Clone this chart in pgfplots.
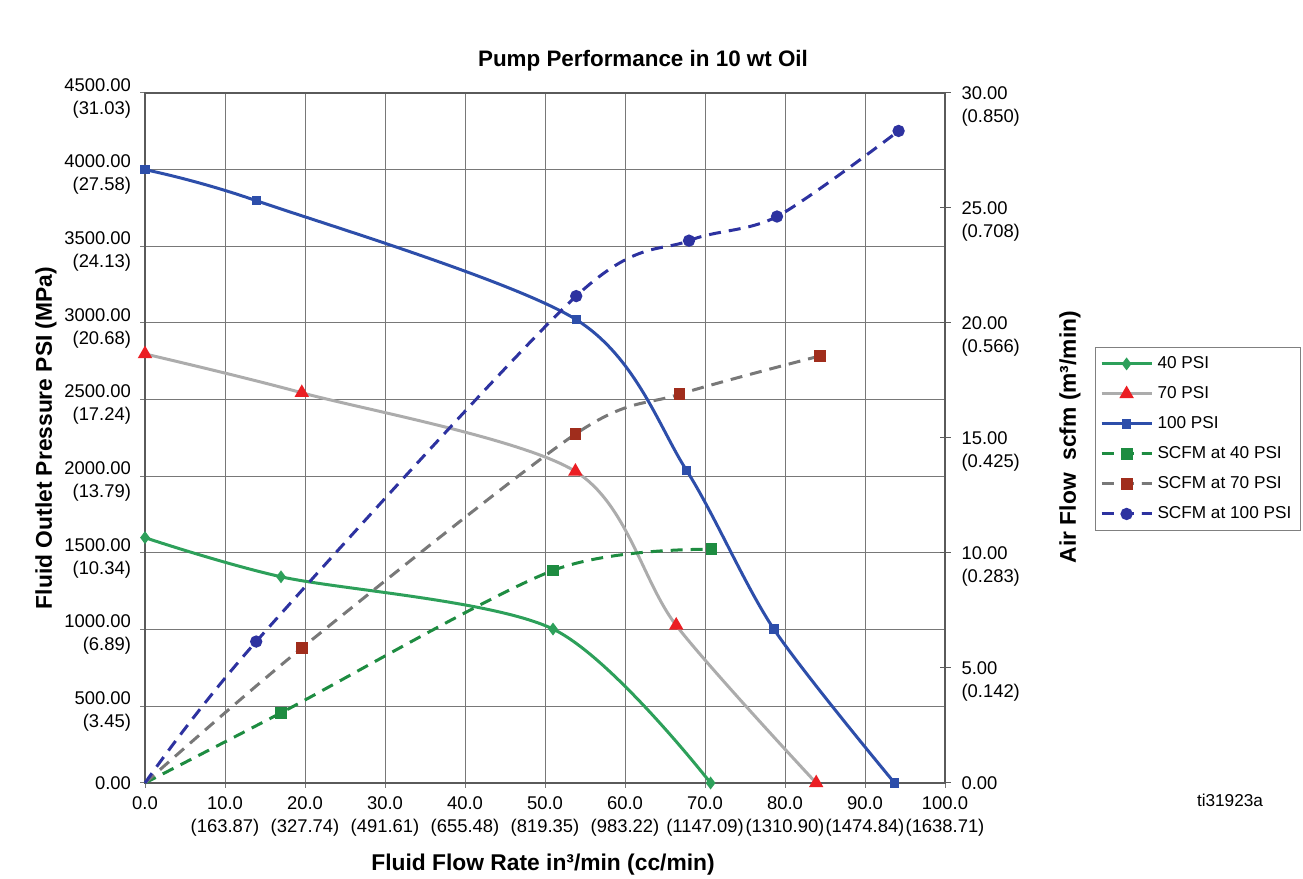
\documentclass[border=0pt]{standalone}
\usepackage{pgfplots}
\pgfplotsset{compat=1.18}
\usepackage{fontspec}
\setmainfont{Liberation Sans}
\definecolor{g40}{RGB}{45,160,90}
\definecolor{gy70}{RGB}{172,172,172}
\definecolor{b100}{RGB}{45,78,170}
\definecolor{gd}{RGB}{30,140,65}
\definecolor{gyd}{RGB}{120,120,120}
\definecolor{bd}{RGB}{45,50,160}
\definecolor{redm}{RGB}{235,30,35}
\definecolor{brownm}{RGB}{160,45,28}
\definecolor{gridc}{RGB}{120,120,120}
\definecolor{axc}{RGB}{90,90,90}

\pgfplotstableread{
x y
0 1600
17 1345
51 1004
70.7 0
}\psiA
\pgfplotstableread{
x y
0 2798
19.6 2545
53.8 2032
66.4 1028
83.9 0
}\psiB
\pgfplotstableread{
x y
0 4000
13.9 3798
53.9 3022
67.7 2038
78.6 1004
93.7 0
}\psiC
\pgfplotstableread{
x y
0 0
17 3.05
51 9.24
70.8 10.16
}\scfmA
\pgfplotstableread{
x y
0 0
19.6 5.87
53.8 15.17
66.8 16.9
84.4 18.57
}\scfmB
\pgfplotstableread{
x y
0 0
13.9 6.15
53.9 21.17
68 23.58
79 24.63
94.2 28.35
}\scfmC

\begin{document}
\begin{tikzpicture}
\useasboundingbox (0,0) rectangle (651.5pt,439.5pt);
\pgfplotsset{
  legend image code/.code={\draw[mark repeat=2,mark phase=2,#1] plot coordinates {(0pt,0pt) (12.5pt,0pt) (25pt,0pt)};},
}
\begin{axis}[
  at={(72.5pt,48pt)}, anchor=south west, scale only axis,
  width=400pt, height=345pt,
  xmin=0, xmax=100, ymin=0, ymax=4500,
  xtick={0,10,...,100}, ytick={0,500,...,4500},
  grid=major, major grid style={gridc, line width=0.5pt},
  axis line style={axc, line width=0.6pt},
  tick align=outside, major tick length=2.5pt,
  tick style={gridc, line width=0.5pt},
  xtick pos=bottom, ytick pos=left,
  clip=false,
  ticklabel style={font=\fontsize{9.2}{11.5}\selectfont},
  yticklabel style={align=right, xshift=-1pt, yshift=-2.5pt},
  xticklabel style={align=center, yshift=-1pt},
  yticklabels={{\raisebox{2.5pt}[\height][\depth]{0.00}}, {500.00\\(3.45)}, {1000.00\\(6.89)}, {1500.00\\(10.34)}, {2000.00\\(13.79)}, {2500.00\\(17.24)}, {3000.00\\(20.68)}, {3500.00\\(24.13)}, {4000.00\\(27.58)}, {4500.00\\(31.03)}},
  xticklabels={0.0, {10.0\\(163.87)}, {20.0\\(327.74)}, {30.0\\(491.61)}, {40.0\\(655.48)}, {50.0\\(819.35)}, {60.0\\(983.22)}, {70.0\\(1147.09)}, {80.0\\(1310.90)}, {90.0\\(1474.84)}, {100.0\\(1638.71)}},
]
\addplot[g40, line width=1.5pt, smooth, mark=diamond*, mark size=2pt, mark options={solid}] table {\psiA};
\addplot[gy70, line width=1.5pt, smooth, mark=triangle*, mark size=2.7pt, mark options={solid, fill=redm, draw=redm}] table {\psiB};
\addplot[b100, line width=1.5pt, smooth, mark=square*, mark size=1.6pt, mark options={solid}] table {\psiC};
\end{axis}
\begin{axis}[
  at={(72.5pt,48pt)}, anchor=south west, scale only axis,
  width=400pt, height=345pt,
  xmin=0, xmax=100, ymin=0, ymax=30,
  axis x line=none, axis y line*=right,
  ytick={0,5,...,30},
  tick align=center, major tick length=5.5pt,
  tick style={axc, line width=0.5pt},
  axis line style={axc, line width=0.6pt},
  clip=false,
  ticklabel style={font=\fontsize{9.2}{11.5}\selectfont},
  yticklabel style={align=left, anchor=west, yshift=-6.6pt, xshift=2pt},
  yticklabels={{0.00\\\vphantom{(}}, {5.00\\(0.142)}, {10.00\\(0.283)}, {15.00\\(0.425)}, {20.00\\(0.566)}, {25.00\\(0.708)}, {30.00\\(0.850)}},
  legend style={at={(1.1875,0.632)}, anchor=north west, draw=gray, line width=0.5pt,
    font=\fontsize{8.6}{10}\selectfont, row sep=3.1pt, inner sep=2.3pt,
    nodes={inner sep=2.2pt}},
  legend cell align=left,
]
\addlegendimage{g40, line width=1.5pt, mark=diamond*, mark size=2pt}
\addlegendentry{40 PSI}
\addlegendimage{gy70, line width=1.5pt, mark=triangle*, mark size=2.7pt, mark options={fill=redm, draw=redm}}
\addlegendentry{70 PSI}
\addlegendimage{b100, line width=1.5pt, mark=square*, mark size=1.6pt}
\addlegendentry{100 PSI}
\addplot[gd, line width=1.5pt, smooth, dash pattern=on 6pt off 4pt, mark=square*, mark size=2.2pt, mark indices={2,3,4}, mark options={solid}, legend image post style={mark indices={2}}] table {\scfmA};
\addlegendentry{SCFM at 40 PSI}
\addplot[gyd, line width=1.5pt, smooth, dash pattern=on 6pt off 4pt, mark=square*, mark size=2.2pt, mark indices={2,3,4,5}, mark options={solid, fill=brownm, draw=brownm}, legend image post style={mark indices={2}}] table {\scfmB};
\addlegendentry{SCFM at 70 PSI}
\addplot[bd, line width=1.5pt, smooth, dash pattern=on 6pt off 4pt, mark=*, mark size=2.3pt, mark indices={2,3,4,5,6}, mark options={solid}, legend image post style={mark indices={2}}] table {\scfmC};
\addlegendentry{SCFM at 100 PSI}
\end{axis}
\node[font=\fontsize{11.2}{13}\selectfont\bfseries] at (321.5pt,409pt) {Pump Performance in 10 wt Oil};
\node[font=\fontsize{11.4}{13}\selectfont\bfseries] at (271.5pt,7pt) {Fluid Flow Rate in³/min (cc/min)};
\node[font=\fontsize{11.4}{13}\selectfont\bfseries, rotate=90] at (23pt,220.5pt) {Fluid Outlet Pressure PSI (MPa)};
\node[font=\fontsize{11.4}{13}\selectfont\bfseries, rotate=90] at (535pt,221pt) {Air Flow\ \ scfm (m³/min)};
\node[font=\fontsize{8.6}{10}\selectfont] at (615pt,39.5pt) {ti31923a};
\end{tikzpicture}
\end{document}
